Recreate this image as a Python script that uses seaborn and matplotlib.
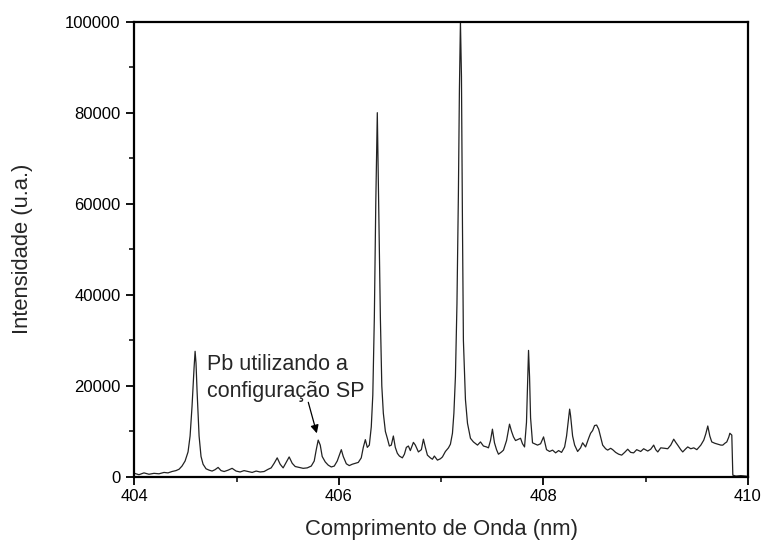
import matplotlib
matplotlib.use("Agg")
import matplotlib.pyplot as plt
from matplotlib.ticker import MultipleLocator
import seaborn as sns
import pandas as pd

# Emission spectrum: wavelength (nm) and intensity (a.u., in thousands)
wavelength = [
    404.000, 404.044, 404.093, 404.142, 404.191, 404.240, 404.289, 404.328, 404.367, 404.406,
    404.436, 404.465, 404.495, 404.524, 404.544, 404.563, 404.583, 404.593, 404.602, 404.612,
    404.632, 404.651, 404.671, 404.700, 404.730, 404.759, 404.788, 404.818, 404.847, 404.877,
    404.916, 404.955, 404.994, 405.033, 405.072, 405.112, 405.151, 405.190, 405.229, 405.268,
    405.308, 405.337, 405.366, 405.396, 405.425, 405.454, 405.484, 405.513, 405.543, 405.572,
    405.611, 405.650, 405.690, 405.729, 405.758, 405.778, 405.797, 405.817, 405.836, 405.866,
    405.895, 405.925, 405.954, 405.983, 406.023, 406.042, 406.072, 406.101, 406.130, 406.160,
    406.189, 406.218, 406.238, 406.258, 406.277, 406.297, 406.316, 406.331, 406.346, 406.360,
    406.375, 406.390, 406.405, 406.419, 406.434, 406.454, 406.473, 406.493, 406.512, 406.532,
    406.551, 406.571, 406.591, 406.620, 406.640, 406.659, 406.679, 406.698, 406.728, 406.747,
    406.777, 406.806, 406.826, 406.845, 406.865, 406.894, 406.914, 406.933, 406.963, 406.992,
    407.012, 407.041, 407.071, 407.090, 407.110, 407.124, 407.139, 407.154, 407.168, 407.178,
    407.188, 407.198, 407.208, 407.217, 407.237, 407.257, 407.286, 407.315, 407.355, 407.384,
    407.413, 407.443, 407.462, 407.482, 407.501, 407.521, 407.541, 407.560, 407.590, 407.609,
    407.639, 407.668, 407.688, 407.707, 407.727, 407.746, 407.776, 407.795, 407.815, 407.834,
    407.844, 407.854, 407.864, 407.874, 407.893, 407.923, 407.942, 407.972, 408.001, 408.030,
    408.060, 408.089, 408.119, 408.148, 408.177, 408.207, 408.226, 408.246, 408.256, 408.265,
    408.285, 408.305, 408.334, 408.363, 408.383, 408.412, 408.442, 408.461, 408.481, 408.500,
    408.520, 408.540, 408.559, 408.579, 408.608, 408.628, 408.657, 408.677, 408.706, 408.736,
    408.765, 408.794, 408.824, 408.853, 408.882, 408.912, 408.951, 408.980, 409.020, 409.049,
    409.078, 409.098, 409.118, 409.147, 409.186, 409.215, 409.245, 409.274, 409.294, 409.313,
    409.343, 409.362, 409.392, 409.411, 409.441, 409.470, 409.500, 409.539, 409.568, 409.588,
    409.607, 409.627, 409.646, 409.676, 409.705, 409.735, 409.754, 409.774, 409.793, 409.813,
    409.823, 409.842, 409.852, 409.882, 409.930, 409.979, 410.000,
]
intensity_k = [
    0.8, 0.5, 0.9, 0.6, 0.8, 0.7, 1.0, 0.9, 1.2, 1.4,
    1.7, 2.4, 3.5, 5.5, 9.0, 15.5, 24.0, 27.6, 25.0, 19.0,
    9.0, 4.5, 2.8, 1.8, 1.5, 1.3, 1.6, 2.1, 1.4, 1.2,
    1.5, 1.9, 1.3, 1.1, 1.4, 1.2, 1.0, 1.3, 1.1, 1.2,
    1.7, 2.0, 3.0, 4.2, 2.8, 2.0, 3.2, 4.4, 3.0, 2.3,
    2.1, 1.9, 2.0, 2.4, 3.5, 6.0, 8.1, 7.0, 4.5, 3.3,
    2.6, 2.2, 2.4, 3.5, 6.0, 4.5, 2.9, 2.5, 2.8, 3.0,
    3.2, 4.2, 6.5, 8.2, 6.5, 7.0, 11.0, 18.0, 35.0, 60.0,
    80.0, 58.0, 35.0, 20.0, 14.0, 10.0, 8.5, 6.8, 7.0, 9.0,
    6.5, 5.2, 4.6, 4.2, 5.0, 6.5, 6.8, 5.8, 7.6, 7.0,
    5.5, 6.0, 8.3, 6.5, 4.8, 4.2, 3.9, 4.6, 3.7, 4.0,
    4.4, 5.6, 6.4, 7.2, 9.6, 14.0, 22.0, 38.0, 62.0, 85.0,
    100.0, 88.0, 55.0, 30.0, 17.0, 11.8, 8.5, 7.7, 7.0, 7.7,
    6.8, 6.6, 6.4, 8.0, 10.5, 7.5, 6.0, 5.0, 5.5, 5.9,
    8.0, 11.6, 10.0, 8.8, 8.0, 8.2, 8.5, 7.3, 6.6, 12.0,
    20.0, 27.8, 22.0, 13.0, 7.5, 7.2, 7.0, 7.3, 8.8, 6.0,
    5.6, 5.9, 5.3, 5.8, 5.4, 6.6, 9.0, 13.0, 14.9, 13.5,
    9.0, 7.0, 5.6, 6.4, 7.5, 6.6, 8.5, 9.6, 10.2, 11.3,
    11.4, 10.5, 8.8, 7.0, 6.2, 5.9, 6.3, 6.0, 5.4, 5.0,
    4.8, 5.4, 6.1, 5.4, 5.3, 6.0, 5.6, 6.2, 5.7, 6.1,
    7.0, 6.0, 5.5, 6.4, 6.3, 6.2, 7.0, 8.3, 7.6, 7.0,
    6.0, 5.5, 6.2, 6.6, 6.2, 6.4, 6.0, 7.0, 8.1, 9.5,
    11.2, 9.0, 7.7, 7.4, 7.2, 7.0, 7.0, 7.4, 7.7, 8.8,
    9.6, 9.2, 0.4, 0.2, 0.3, 0.2, 0.1,
]

x_ticks = [404, 406, 408, 410]
y_ticks = [0, 20000, 40000, 60000, 80000, 100000]

annotation_text = "Pb utilizando a\nconfiguração SP"
pb_peak = (405.787, 9300)
arrow_tail = (405.700, 16400)
text_anchor = (404.710, 27000)

df = pd.DataFrame({
    "wavelength": wavelength,
    "intensity": [v * 1000 for v in intensity_k],
})

sns.set_style("ticks")
plt.rcParams["font.family"] = ["Liberation Sans", "DejaVu Sans"]

fig = plt.figure(figsize=(7.64, 5.47), dpi=100)
ax = fig.add_axes([0.176, 0.128, 0.803, 0.8325])

sns.lineplot(data=df, x="wavelength", y="intensity", ax=ax, sort=False,
             estimator=None, color="#222222", linewidth=0.9)

ax.set_xlim(404, 410)
ax.set_ylim(0, 100000)
ax.set_xticks(x_ticks)
ax.set_yticks(y_ticks)
ax.set_xticklabels([str(t) for t in x_ticks])
ax.set_yticklabels([str(t) for t in y_ticks])
ax.xaxis.set_minor_locator(MultipleLocator(1))
ax.yaxis.set_minor_locator(MultipleLocator(10000))

for side in ["top", "right", "left", "bottom"]:
    ax.spines[side].set_visible(True)
    ax.spines[side].set_linewidth(1.6)
    ax.spines[side].set_color("black")

ax.tick_params(axis="both", which="major", direction="out", length=6, width=1.3,
               labelsize=12, colors="black", top=False, right=False, pad=4)
ax.tick_params(axis="both", which="minor", direction="out", length=3.6, width=1.3,
               top=False, right=False)
ax.tick_params(axis="x", which="major", pad=3)

ax.set_xlabel("Comprimento de Onda (nm)", fontsize=15.8)
ax.set_ylabel("Intensidade (u.a.)", fontsize=15.8)
ax.xaxis.label.set_va("center")
ax.yaxis.label.set_va("center")
ax.xaxis.set_label_coords(0.5, -0.116)
ax.yaxis.set_label_coords(-0.183, 0.5)

ax.annotate("", xy=pb_peak, xytext=arrow_tail,
            arrowprops=dict(arrowstyle="-|>", color="black", lw=0.9,
                            mutation_scale=12, shrinkA=0, shrinkB=1))
ax.text(*text_anchor, annotation_text, fontsize=15.5, va="top", ha="left",
        linespacing=1.36)

fig.savefig("out.png", dpi=100)
